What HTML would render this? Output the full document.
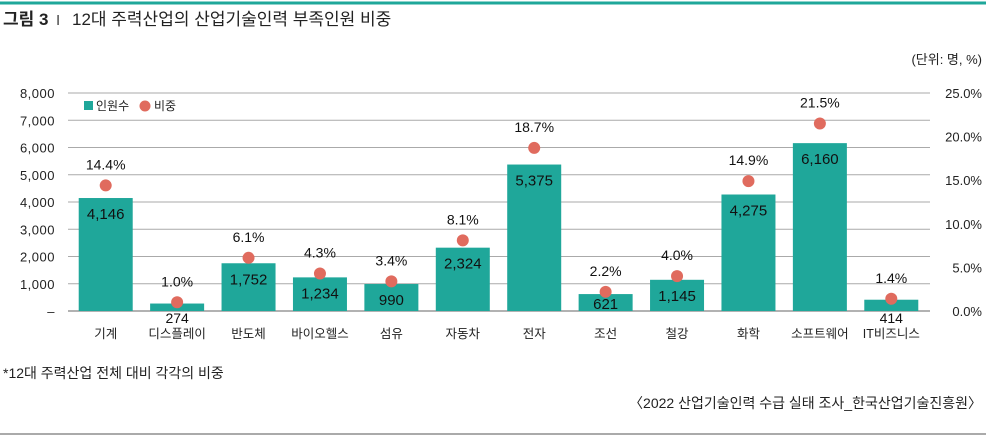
<!DOCTYPE html>
<html><head><meta charset="utf-8"><style>
body{margin:0;background:#fff;font-family:"Liberation Sans","Noto Sans CJK KR",sans-serif;}
#wrap{position:relative;width:986px;height:437px;overflow:hidden;}
</style></head><body>
<div id="wrap">
<svg id="chart" width="986" height="437" style="position:absolute;left:0;top:0;font-family:'Liberation Sans','Noto Sans CJK KR',sans-serif;">
<line x1="0" y1="3" x2="986" y2="3" stroke="#1fa79a" stroke-width="3"/>
<text x="3" y="25" font-size="17" font-weight="bold" fill="#222">그림 3</text>
<text x="56" y="25" font-size="15" fill="#444">I</text>
<text x="72" y="25" font-size="17" fill="#222">12대 주력산업의 산업기술인력 부족인원 비중</text>
<text x="982" y="64" font-size="13" fill="#222" text-anchor="end">(단위: 명, %)</text>
<g id="grid"></g><g id="bars"></g><g id="dots"></g><g id="axes"></g>
<rect x="84" y="101" width="9" height="9" fill="#1fa79a"/>
<text x="96" y="110" font-size="12" fill="#222">인원수</text>
<circle cx="145" cy="106" r="5.5" fill="#e06b5e"/>
<text x="154" y="110" font-size="12" fill="#222">비중</text>
<text x="3" y="378" font-size="14" fill="#222">*12대 주력산업 전체 대비 각각의 비중</text>
<text x="982" y="408" font-size="14" fill="#222" text-anchor="end">〈2022 산업기술인력 수급 실태 조사_한국산업기술진흥원〉</text>
<line x1="0" y1="434" x2="986" y2="434" stroke="#555" stroke-width="1"/>
</svg>
</div>
<script>
const categories=["기계","디스플레이","반도체","바이오헬스","섬유","자동차","전자","조선","철강","화학","소프트웨어","IT비즈니스"];
const counts=[4146,274,1752,1234,990,2324,5375,621,1145,4275,6160,414];
const ratios=[14.4,1.0,6.1,4.3,3.4,8.1,18.7,2.2,4.0,14.9,21.5,1.4];
const leftTicks=[0,1000,2000,3000,4000,5000,6000,7000,8000];
const rightTicks=[0,5,10,15,20,25];
const NS="http://www.w3.org/2000/svg";
const X0=70,X1=927,Y0=311,YT=93;
const step=(X1-X0)/categories.length;
function xc(i){return X0+step*(i+0.5);}
function yL(v){return Y0-(v/8000)*(Y0-YT);}
function yR(v){return Y0-(v/25)*(Y0-YT);}
function mk(tag,attrs,parent,txt){const e=document.createElementNS(NS,tag);for(const k in attrs)e.setAttribute(k,attrs[k]);if(txt!==undefined)e.textContent=txt;document.getElementById(parent).appendChild(e);return e;}
const fmt=v=>v.toLocaleString('en-US');
leftTicks.forEach(t=>{
  const l=mk('line',{x1:X0-2,x2:X1+3,y1:yL(t),y2:yL(t),stroke:t===0?'#666':'#aaa','stroke-width':1},'grid');
  
  
  const tx=mk('text',{x:55,y:yL(t)+5,'font-size':13,fill:'#222','text-anchor':'end','letter-spacing':'0.5'},'axes',t===0?'–':fmt(t));
  
  
});
rightTicks.forEach(t=>{
  const tx=mk('text',{x:982,y:yR(t)+5,'font-size':13,fill:'#222','text-anchor':'end'},'axes',t.toFixed(1)+'%');
  
  
});
const bw=54;
categories.forEach((c,i)=>{
  const x=xc(i),v=counts[i],y=yL(v);
  const r=mk('rect',{x:x-bw/2,y:y,width:bw,height:Y0-y,fill:'#1fa79a'},'bars');
  
  
  const inside=(Y0-y)>15;
  const lbl=mk('text',{x:x,y:inside?Math.min(y+21,Y0-2):Y0+12,'font-size':inside?15:14,fill:'#111','text-anchor':'middle'},'bars',fmt(v));
  
  
  const cl=mk('text',{x:x,y:Y0+27,'font-size':12.5,fill:'#222','text-anchor':'middle'},'axes',c);
  
  
  const dy=yR(ratios[i]);
  const d=mk('circle',{cx:x,cy:dy,r:6,fill:'#e06b5e'},'dots');
  
  
  const pl=mk('text',{x:x,y:dy-16,'font-size':14,fill:'#111','text-anchor':'middle'},'dots',ratios[i].toFixed(1)+'%');
  
  
});
</script>
</body></html>
